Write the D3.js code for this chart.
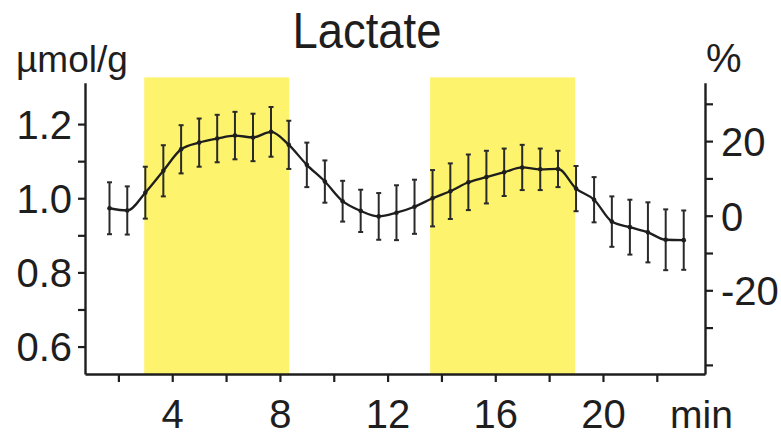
<!DOCTYPE html>
<html>
<head>
<meta charset="utf-8">
<script src="https://cdn.jsdelivr.net/npm/d3@7"></script>
<style>
  html, body { margin: 0; padding: 0; background: #fff; }
  svg { display: block; }
  text { font-family: "Liberation Sans", Arial, Helvetica, sans-serif; fill: #1e1e1e; }
</style>
</head>
<body>
<svg id="chart" width="781" height="435"></svg>
<script>
// Sampling times (min)
const times = [1.67, 2.33, 3.00, 3.67, 4.33, 5.00, 5.67, 6.33, 7.00, 7.67, 8.33,
               9.00, 9.67, 10.33, 11.00, 11.67, 12.33, 13.00, 13.67, 14.33, 15.00, 15.67,
               16.33, 17.00, 17.67, 18.33, 19.00, 19.67, 20.33, 21.00, 21.67, 22.33, 23.00];
// Lactate concentration, mean (µmol/g)
const lactateMean = [0.973, 0.967, 1.015, 1.074, 1.132, 1.150, 1.161, 1.169, 1.164, 1.179, 1.144,
                     1.090, 1.045, 0.992, 0.966, 0.951, 0.961, 0.977, 1.000, 1.019, 1.043, 1.057,
                     1.070, 1.083, 1.078, 1.079, 1.026, 0.996, 0.937, 0.922, 0.908, 0.888, 0.887];
// Standard error of the mean (µmol/g)
const lactateSem = [0.070, 0.065, 0.070, 0.069, 0.065, 0.065, 0.064, 0.064, 0.064, 0.067, 0.065,
                    0.060, 0.057, 0.055, 0.057, 0.063, 0.074, 0.073, 0.076, 0.075, 0.075, 0.071,
                    0.064, 0.061, 0.056, 0.049, 0.061, 0.061, 0.068, 0.074, 0.081, 0.082, 0.080];
// Stimulation periods (min)
const stimPeriods = [[2.96, 8.34], [13.58, 18.96]];
// Axis ticks
const xTicks = [2, 4, 6, 8, 10, 12, 14, 16, 18, 20, 22];
const xTickLabels = [4, 8, 12, 16, 20];
const leftTicks = [0.6, 0.7, 0.8, 0.9, 1.0, 1.1, 1.2];
const leftTickLabels = ["0.6", "0.8", "1.0", "1.2"];
const rightTicks = [-40, -30, -20, -10, 0, 10, 20, 30];
const rightTickLabels = ["-20", "0", "20"];

const svg = d3.select("#chart");
const ink = "#1e1e1e";

const x = d3.scaleLinear().domain([0.76, 23.79]).range([85, 705]);
const yL = d3.scaleLinear().domain([0.526, 1.3116]).range([374, 82.7]);
const yR = d3.scaleLinear().domain([-42.44, 35.66]).range([374, 82.7]);

// Shaded stimulation periods
svg.append("g").selectAll("rect").data(stimPeriods).join("rect")
  .attr("x", d => x(d[0]))
  .attr("width", d => x(d[1]) - x(d[0]))
  .attr("y", yL(1.326))
  .attr("height", yL(0.526) - yL(1.326))
  .attr("fill", "#fdf36d");

// Axes
function styleAxis(g) {
  g.select(".domain").attr("stroke", ink).attr("stroke-width", 2.4);
  g.selectAll(".tick line").attr("stroke", ink).attr("stroke-width", 2.2);
  g.selectAll(".tick text").remove();
}
const fmt1 = d3.format(".1f");

const gL = svg.append("g").attr("transform", "translate(85,0)")
  .call(d3.axisLeft(yL).tickValues(leftTicks).tickSize(7).tickSizeOuter(0))
  .call(styleAxis);
gL.selectAll(".tick").filter(d => leftTickLabels.includes(fmt1(d)))
  .append("text")
  .attr("x", -13).attr("dy", "0.36em")
  .attr("text-anchor", "end")
  .attr("font-size", 40)
  .text(d => fmt1(d));

const gR = svg.append("g").attr("transform", "translate(705,0)")
  .call(d3.axisRight(yR).tickValues(rightTicks).tickSize(8).tickSizeOuter(0))
  .call(styleAxis);
gR.selectAll(".tick").filter(d => rightTickLabels.includes(String(d)))
  .append("text")
  .attr("x", 16).attr("dy", "0.36em")
  .attr("text-anchor", "start")
  .attr("font-size", 40)
  .text(d => String(d));

const gB = svg.append("g").attr("transform", "translate(0,374)")
  .call(d3.axisBottom(x).tickValues(xTicks).tickSize(8).tickSizeOuter(0))
  .call(styleAxis);
gB.selectAll(".tick").filter(d => xTickLabels.includes(d))
  .append("text")
  .attr("y", 54)
  .attr("text-anchor", "middle")
  .attr("font-size", 40)
  .text(d => d);

// Error bars
const pts = times.map((t, i) => ({ t, m: lactateMean[i], s: lactateSem[i] }));
const eb = svg.append("g").attr("stroke", "#2a2a2a").attr("stroke-width", 2);
eb.selectAll("line.v").data(pts).join("line").attr("class", "v")
  .attr("x1", d => x(d.t)).attr("x2", d => x(d.t))
  .attr("y1", d => yL(d.m + d.s)).attr("y2", d => yL(d.m - d.s));
eb.selectAll("line.top").data(pts).join("line").attr("class", "top")
  .attr("x1", d => x(d.t) - 2.5).attr("x2", d => x(d.t) + 2.5)
  .attr("y1", d => yL(d.m + d.s)).attr("y2", d => yL(d.m + d.s));
eb.selectAll("line.bot").data(pts).join("line").attr("class", "bot")
  .attr("x1", d => x(d.t) - 2.5).attr("x2", d => x(d.t) + 2.5)
  .attr("y1", d => yL(d.m - d.s)).attr("y2", d => yL(d.m - d.s));

// Mean line and points
svg.append("path").datum(pts)
  .attr("fill", "none").attr("stroke", ink).attr("stroke-width", 2.3)
  .attr("stroke-linejoin", "round")
  .attr("d", d3.line().x(d => x(d.t)).y(d => yL(d.m)).curve(d3.curveMonotoneX));
svg.append("g").selectAll("circle").data(pts).join("circle")
  .attr("cx", d => x(d.t)).attr("cy", d => yL(d.m)).attr("r", 2.3)
  .attr("fill", ink);

// Titles and units
svg.append("text").attr("x", 367).attr("y", 48).attr("text-anchor", "middle")
  .attr("font-size", 50).attr("textLength", 149).attr("lengthAdjust", "spacingAndGlyphs")
  .text("Lactate");
svg.append("text").attr("x", 16).attr("y", 72).attr("font-size", 37).text("µmol/g");
svg.append("text").attr("x", 706).attr("y", 72).attr("font-size", 40).text("%");
svg.append("text").attr("x", 670).attr("y", 428).attr("font-size", 39).text("min");
</script>
</body>
</html>
